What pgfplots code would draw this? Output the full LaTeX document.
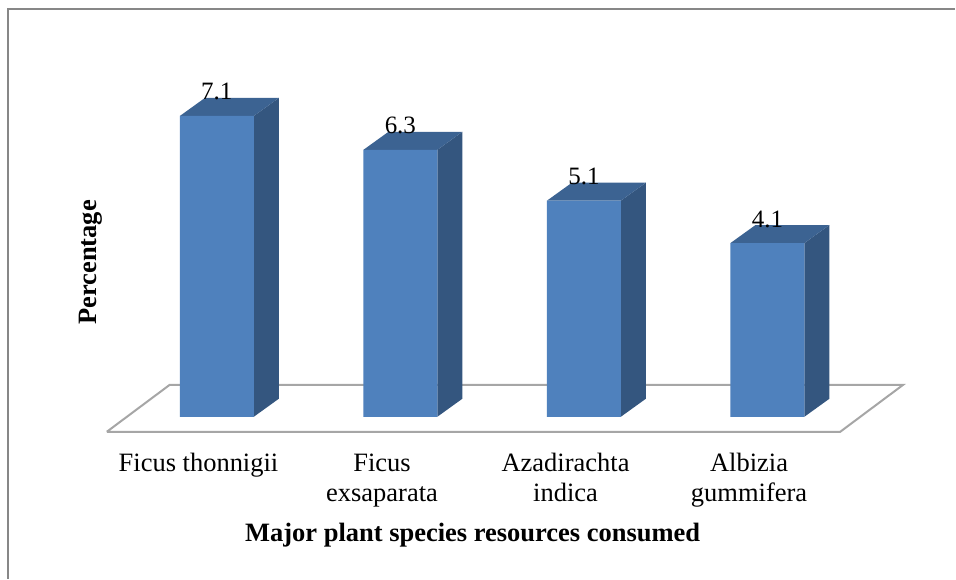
\documentclass[border=0pt]{standalone}
\usepackage{pgfplots}
\pgfplotsset{compat=1.18}
\usepackage{fontspec}
\setmainfont{Liberation Serif}
\definecolor{frontc}{HTML}{4F81BD}
\definecolor{sidec}{HTML}{34567F}
\definecolor{topc}{HTML}{3C6392}
\definecolor{floorc}{HTML}{A6A6A6}
\definecolor{framec}{HTML}{878787}
\begin{document}
\begin{tikzpicture}
\begin{axis}[
  width=956pt, height=579pt, scale only axis,
  xmin=-1.1815, xmax=4.0235, ymin=-3.8208, ymax=9.8349,
  clip=false,
  axis line style={draw=none},
  major tick length=0pt,
  ytick=\empty,
  xtick={-0.1,0.9,1.9,2.9},
  xticklabels={{Ficus thonnigii\\\mbox{}},{Ficus\\exsaparata},{Azadirachta\\indica},{Albizia\\gummifera}},
  xticklabel style={font=\fontsize{26.5}{30}\selectfont, align=center, anchor=base, yshift=77.3pt},
  xlabel={Major plant species resources consumed},
  xlabel style={at={(rel axis cs:0.4948,0.0644)}, anchor=base, font=\fontsize{26.5}{30}\selectfont\bfseries},
  ylabel={Percentage},
  ylabel style={at={(rel axis cs:0.1015,0.5466)}, anchor=base, font=\fontsize{26.5}{30}\selectfont\bfseries},
  /pgf/number format/assume math mode=true,
  /pgf/number format/fixed,
  /pgf/number format/precision=1,
  /pgf/number format/fixed zerofill,
]
% frame
\draw[framec, line width=1.5pt] (rel axis cs:0.00837,0) -- (rel axis cs:0.00837,0.98446) -- (rel axis cs:1,0.98446);
% floor
\addplot[fill=white, draw=floorc, line width=2pt, line join=miter] coordinates {(-0.5995,-0.354) (3.3968,-0.354) (3.7398,0.755) (-0.2564,0.755) (-0.5995,-0.354)};
% side faces
\addplot[fill=sidec, draw=none] coordinates {(0.2014,0) (0.3375,0.4245) (0.3375,7.5245) (0.2014,7.1)};
\addplot[fill=sidec, draw=none] coordinates {(1.2014,0) (1.3375,0.4245) (1.3375,6.7245) (1.2014,6.3)};
\addplot[fill=sidec, draw=none] coordinates {(2.2014,0) (2.3375,0.4245) (2.3375,5.5245) (2.2014,5.1)};
\addplot[fill=sidec, draw=none] coordinates {(3.2014,0) (3.3375,0.4245) (3.3375,4.5245) (3.2014,4.1)};
% top faces
\addplot[fill=topc, draw=none] coordinates {(-0.2014,7.1) (0.2014,7.1) (0.3375,7.5245) (-0.0653,7.5245)};
\addplot[fill=topc, draw=none] coordinates {(0.7986,6.3) (1.2014,6.3) (1.3375,6.7245) (0.9347,6.7245)};
\addplot[fill=topc, draw=none] coordinates {(1.7986,5.1) (2.2014,5.1) (2.3375,5.5245) (1.9347,5.5245)};
\addplot[fill=topc, draw=none] coordinates {(2.7986,4.1) (3.2014,4.1) (3.3375,4.5245) (2.9347,4.5245)};
% front faces with value labels
\addplot[ybar, bar width=0.4028, bar shift=0pt, fill=frontc, draw=none,
  nodes near coords,
  every node near coord/.append style={anchor=base, yshift=16pt, font=\fontsize{25}{30}\selectfont, text=black}]
  coordinates {(0,7.1) (1,6.3) (2,5.1) (3,4.1)};
\end{axis}
\end{tikzpicture}
\end{document}
